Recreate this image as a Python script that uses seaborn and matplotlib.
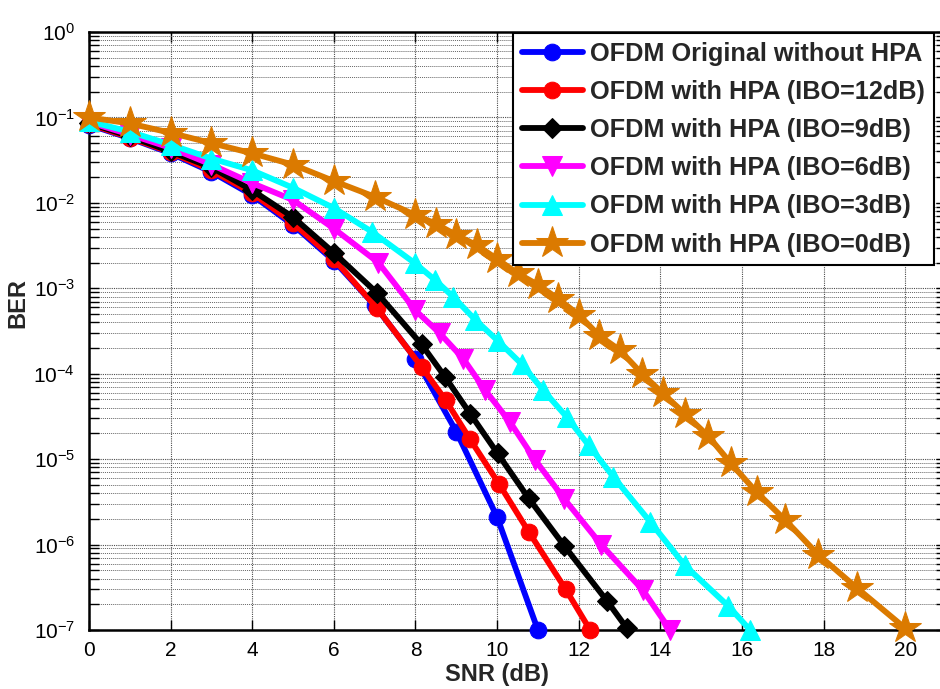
import numpy as np
import pandas as pd
import matplotlib
matplotlib.use("Agg")
import matplotlib.pyplot as plt
import seaborn as sns
from matplotlib.ticker import NullFormatter, FixedLocator, LogFormatterSciNotation

# ---------------- data ----------------
labels = [
    "OFDM Original without HPA",
    "OFDM with HPA (IBO=12dB)",
    "OFDM with HPA (IBO=9dB)",
    "OFDM with HPA (IBO=6dB)",
    "OFDM with HPA (IBO=3dB)",
    "OFDM with HPA (IBO=0dB)",
]

snr_orig = [0, 1, 2, 3, 4, 5, 6, 7, 8, 9, 10, 11]
ber_orig = [0.082, 0.057, 0.038, 0.023, 0.0123, 0.0055, 0.0021, 6.3e-4, 1.5e-4,
            2.1e-5, 2.1e-6, 1.0e-7]

snr_ibo12 = [0, 1, 2, 3, 4, 5, 6, 7.05, 8.15, 8.74, 9.34, 10.05, 10.78, 11.68, 12.28]
ber_ibo12 = [0.084, 0.058, 0.039, 0.024, 0.013, 0.0058, 0.0022, 5.9e-4, 1.2e-4,
             4.9e-5, 1.7e-5, 5.1e-6, 1.4e-6, 3.0e-7, 1.0e-7]

snr_ibo9 = [0, 1, 2, 3, 4, 5, 6, 7.06, 8.15, 8.73, 9.34, 10.01, 10.77, 11.65, 12.69, 13.18]
ber_ibo9 = [0.086, 0.060, 0.040, 0.026, 0.014, 0.0068, 0.0026, 8.8e-4, 2.2e-4,
            9.1e-5, 3.4e-5, 1.17e-5, 3.5e-6, 9.6e-7, 2.2e-7, 1.05e-7]

snr_ibo6 = [0, 1, 2, 3, 4, 5, 6, 7.09, 8.0, 8.6, 9.17, 9.71, 10.32, 10.93, 11.65,
            12.55, 13.58, 14.24]
ber_ibo6 = [0.088, 0.063, 0.044, 0.028, 0.017, 0.0108, 0.0050, 2.0e-3, 5.5e-4,
            2.96e-4, 1.5e-4, 6.4e-5, 2.7e-5, 9.8e-6, 3.4e-6, 1.0e-6, 2.9e-7, 1.0e-7]

snr_ibo3 = [0, 1, 2, 3, 4, 5, 6, 6.93, 7.99, 8.48, 8.93, 9.46, 10.03, 10.6, 11.13,
            11.71, 12.24, 12.85, 13.75, 14.6, 15.67, 16.2]
ber_ibo3 = [0.090, 0.068, 0.048, 0.033, 0.024, 0.015, 0.0087, 0.0046, 0.00196,
            0.00125, 7.9e-4, 4.3e-4, 2.4e-4, 1.3e-4, 6.4e-5, 3.1e-5, 1.46e-5,
            6.2e-6, 1.85e-6, 5.7e-7, 1.9e-7, 1.0e-7]

snr_ibo0 = [0, 1, 2, 3, 4, 5, 6, 7, 8, 8.5, 9, 9.5, 10, 10.5, 11, 11.5, 12, 12.5,
            13, 13.55, 14.06, 14.6, 15.18, 15.73, 16.36, 17.06, 17.87, 18.82, 20.0]
ber_ibo0 = [0.100, 0.085, 0.066, 0.050, 0.038, 0.028, 0.018, 0.0118, 0.0072,
            0.0057, 0.0042, 0.0032, 0.0022, 0.0015, 0.0011, 7.5e-4, 4.9e-4,
            2.8e-4, 1.9e-4, 1.0e-4, 5.9e-5, 3.4e-5, 1.85e-5, 8.9e-6, 4.1e-6,
            1.94e-6, 7.6e-7, 3.1e-7, 1.05e-7]

xticks = [0, 2, 4, 6, 8, 10, 12, 14, 16, 18, 20]
yticks = [1e0, 1e-1, 1e-2, 1e-3, 1e-4, 1e-5, 1e-6, 1e-7]

series_x = [snr_orig, snr_ibo12, snr_ibo9, snr_ibo6, snr_ibo3, snr_ibo0]
series_y = [ber_orig, ber_ibo12, ber_ibo9, ber_ibo6, ber_ibo3, ber_ibo0]

# ---------------- style ----------------
colors = ["#0000FF", "#FF0000", "#000000", "#FF00FF", "#00FFFF", "#DB7A00"]
markers = ["o", "o", "D", "v", "^", "*"]
msizes = [12, 12, 10, 15, 15, 24]

sns.set_style("ticks")
plt.rcParams["font.family"] = ["Liberation Sans", "DejaVu Sans"]
plt.rcParams["mathtext.fontset"] = "custom"
plt.rcParams["mathtext.rm"] = "Liberation Sans"
plt.rcParams["mathtext.it"] = "Liberation Sans:italic"
plt.rcParams["mathtext.bf"] = "Liberation Sans:bold"
plt.rcParams["axes.unicode_minus"] = False

W, H = 940, 689
fig = plt.figure(figsize=(W / 100, H / 100), dpi=100)
ax = fig.add_axes([89 / W, 1 - 630 / H, (946 - 89) / W, (630 - 32) / H])

for xs, ys, lab, c, m, ms in zip(series_x, series_y, labels, colors, markers, msizes):
    df = pd.DataFrame({"SNR": xs, "BER": ys})
    sns.lineplot(data=df, x="SNR", y="BER", ax=ax, color=c, marker=m,
                 markersize=ms, markeredgecolor=c, markerfacecolor=c,
                 linewidth=4.2, label=lab, clip_on=False, zorder=3)

ax.set_yscale("log")
ax.set_ylim(1e-7, 1e0)
ax.set_xlim(0, 21)
ax.xaxis.set_major_locator(FixedLocator(xticks))
ax.yaxis.set_major_locator(FixedLocator(yticks))
ax.yaxis.set_major_formatter(LogFormatterSciNotation(base=10))
minor = [m * 10.0 ** e for e in range(-7, 0) for m in range(2, 10)]
ax.yaxis.set_minor_locator(FixedLocator(minor))
ax.yaxis.set_minor_formatter(NullFormatter())

ax.grid(True, which="major", axis="both", color="0.3", linestyle=(0, (1, 1)),
        linewidth=0.8, zorder=0)
ax.grid(True, which="minor", axis="y", color="0.4", linestyle=(0, (1, 1)),
        linewidth=0.7, zorder=0)

ax.tick_params(axis="both", which="both", direction="in", top=True, right=True,
               length=7, width=1.0, labelsize=15, colors="k", pad=8)
ax.tick_params(axis="y", which="major", pad=10)
for s in ax.spines.values():
    s.set_linewidth(1.8)
    s.set_color("k")

ax.set_xlabel("SNR (dB)", fontsize=17, fontweight="bold")
ax.set_ylabel("BER", fontsize=17, fontweight="bold")
ax.xaxis.set_label_coords((497 - 89) / (946 - 89), -(674 - 630) / (630 - 32), transform=ax.transAxes)
ax.yaxis.set_label_coords(-(89 - 18) / (946 - 89), (630 - 303) / (630 - 32), transform=ax.transAxes)
ax.xaxis.label.set_va("center")
ax.yaxis.label.set_va("center")

leg = ax.legend(loc="upper left", bbox_to_anchor=(513 / W, 1 - 33 / H),
                bbox_transform=fig.transFigure, borderaxespad=0,
                prop={"weight": "bold", "size": 18.2}, frameon=True, fancybox=False,
                framealpha=1, edgecolor="k", handlelength=2.4, handletextpad=0.3,
                labelspacing=0.56, borderpad=0.35, markerscale=1.0)
leg.get_frame().set_linewidth(1.5)
leg.set_zorder(5)

fig.savefig("out.png", dpi=100)
